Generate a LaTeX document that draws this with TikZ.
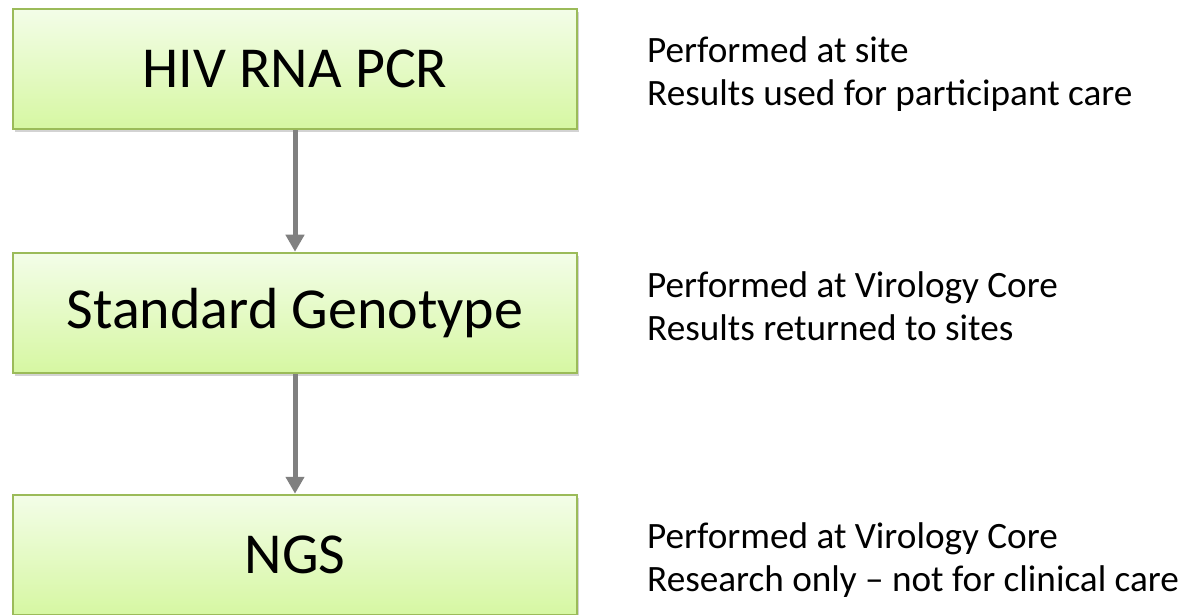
\documentclass[tikz,border=0pt]{standalone}
\usepackage{fontspec}
\setmainfont{Carlito}
\usetikzlibrary{arrows.meta,shadows}
\definecolor{bordvert}{HTML}{9BBB59}
\definecolor{hautvert}{HTML}{F3FDE8}
\definecolor{basvert}{HTML}{D6F7A2}
\definecolor{gris}{HTML}{808080}
\begin{document}
\begin{tikzpicture}[x=1pt, y=1pt]
			\tikzset{boite/.style={rectangle, draw=bordvert, line width=2.5pt, top color=hautvert, bottom color=basvert, minimum width=564pt, minimum height=120pt, inner sep=0pt, font=\fontsize{58}{66}\selectfont, drop shadow={opacity=0.35, shadow xshift=2pt, shadow yshift=-3pt}},
				note/.style={anchor=west, align=left, inner sep=0pt, font=\fontsize{37.2}{43.5}\selectfont},
				fleche/.style={-{Triangle[width=18pt, length=17pt]}, draw=gris, line width=5pt}};

			\useasboundingbox (0,0) rectangle (1182,614);

			\node[boite] (pcr) at (295, 545) {HIV RNA PCR};
			\node[boite] (geno) at (295, 301) {Standard Genotype};
			\node[boite] (ngs) at (295, 59) {NGS};

			\node[note] (npcr) at (647, 540) {Performed at site\\Results used for participant care};
			\node[note] (ngeno) at (647, 308) {Performed at Virology Core\\Results returned to sites};
			\node[note] (nngs) at (647, 54) {Performed at Virology Core\\Research only – not for clinical care};

			\draw[fleche] (pcr) to (geno);
			\draw[fleche] (geno) to (ngs);

		\end{tikzpicture}
\end{document}
